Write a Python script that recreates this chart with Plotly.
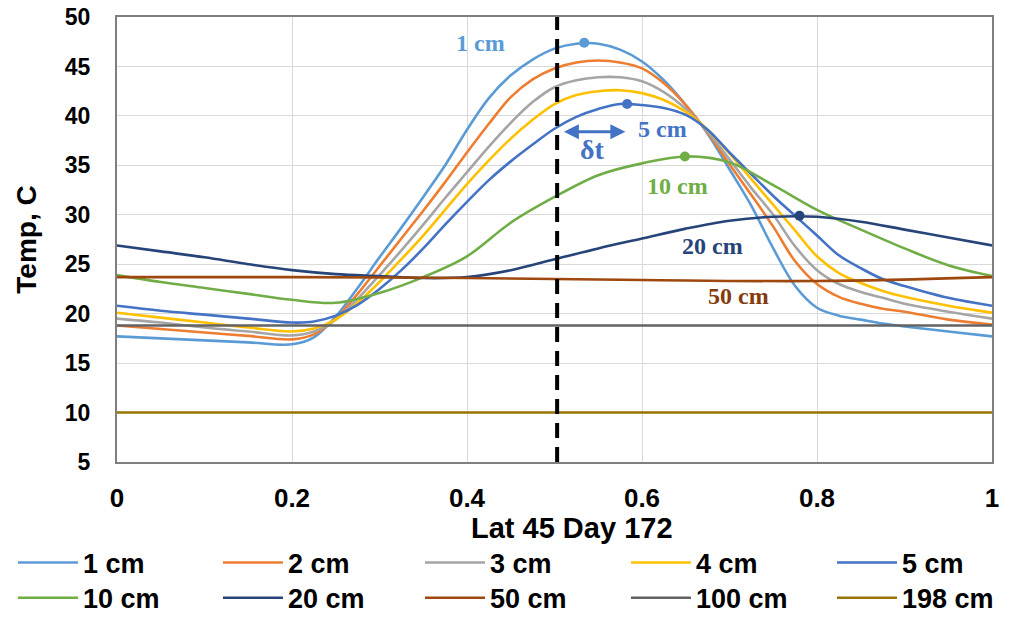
import plotly.graph_objects as go

# ---------------- data ----------------
series_names = ["1 cm", "2 cm", "3 cm", "4 cm", "5 cm", "10 cm", "20 cm", "50 cm", "100 cm", "198 cm"]

# fraction of day (shared sampling for the shallow layers)
x_shallow = [0, 0.05, 0.1, 0.15, 0.2, 0.225, 0.25, 0.275, 0.3, 0.325, 0.35, 0.375, 0.4, 0.425,
             0.45, 0.475, 0.5, 0.525, 0.55, 0.575, 0.6, 0.625, 0.65, 0.675, 0.7, 0.725, 0.75,
             0.775, 0.8, 0.825, 0.85, 0.875, 0.9, 0.95, 1.0]

t_1cm = [17.7, 17.5, 17.3, 17.1, 16.9, 17.6, 19.7, 22.6, 25.7, 28.7, 31.8, 35.0, 38.6, 41.8,
         44.1, 45.7, 46.8, 47.3, 47.3, 46.7, 45.5, 43.6, 41.1, 38.2, 34.6, 30.9, 26.6,
         22.8, 20.6, 19.8, 19.4, 19.0, 18.7, 18.2, 17.7]
t_2cm = [18.8, 18.45, 18.1, 17.75, 17.4, 17.9, 19.5, 22.0, 24.8, 27.6, 30.4, 33.3, 36.3, 39.2,
         41.9, 43.7, 44.8, 45.4, 45.6, 45.4, 44.8, 43.3, 41.1, 38.3, 35.1, 32.0, 28.8,
         25.3, 23.0, 21.7, 21.0, 20.5, 20.2, 19.4, 18.9]
t_3cm = [19.5, 19.1, 18.6, 18.2, 17.8, 18.2, 19.4, 21.5, 23.9, 26.4, 29.0, 31.7, 34.3, 36.9,
         39.3, 41.4, 42.9, 43.6, 43.9, 43.9, 43.5, 42.4, 40.7, 38.4, 35.6, 32.7, 30.0,
         26.8, 24.4, 23.0, 22.2, 21.6, 21.0, 20.2, 19.5]
t_4cm = [20.1, 19.6, 19.1, 18.6, 18.2, 18.5, 19.4, 21.1, 23.2, 25.5, 27.9, 30.5, 33.1, 35.5,
         37.7, 39.6, 41.2, 42.1, 42.5, 42.6, 42.3, 41.6, 40.4, 38.6, 36.2, 33.6, 31.0,
         28.4, 25.8, 24.1, 23.1, 22.3, 21.7, 20.8, 20.1]
t_5cm = [20.8, 20.3, 19.9, 19.5, 19.1, 19.2, 19.8, 20.9, 22.5, 24.4, 26.6, 29.0, 31.3, 33.5,
         35.4, 37.1, 38.7, 39.9, 40.7, 41.2, 41.1, 40.8, 40.1, 38.6, 36.3, 34.1, 31.9,
         29.9, 27.9, 25.9, 24.6, 23.5, 22.8, 21.6, 20.8]

x_deep = [0, 0.05, 0.1, 0.15, 0.2, 0.25, 0.3, 0.35, 0.4, 0.45, 0.5, 0.55, 0.6, 0.65, 0.7,
          0.75, 0.8, 0.85, 0.9, 0.95, 1.0]
t_10cm = [23.9, 23.2, 22.6, 22.0, 21.4, 21.1, 22.1, 23.7, 25.8, 29.2, 31.8, 34.0, 35.2, 35.9,
          35.3, 33.0, 30.5, 28.5, 26.6, 24.9, 23.8]
t_20cm = [26.9, 26.3, 25.7, 25.0, 24.4, 24.0, 23.8, 23.6, 23.7, 24.4, 25.5, 26.6, 27.6, 28.6,
          29.4, 29.8, 29.8, 29.3, 28.5, 27.7, 26.9]

x_50cm = [0, 0.2, 0.4, 0.6, 0.8, 1.0]
t_50cm = [23.7, 23.7, 23.6, 23.4, 23.3, 23.7]

x_100cm = [0, 0.5, 1.0]
t_100cm = [18.8, 18.8, 18.8]

x_198cm = [0, 0.5, 1.0]
t_198cm = [10.0, 10.0, 10.0]

# peak markers (1 cm, 5 cm, 10 cm, 20 cm)
peak_x = [0.534, 0.583, 0.649, 0.78]
peak_t = [47.4, 41.2, 35.9, 29.9]

# dashed reference time
ref_x = 0.503

# delta-t arrow (reference time -> 5 cm peak time)
dt_start = 0.509
dt_end = 0.581
dt_level = 38.4

x_ticks = [0, 0.2, 0.4, 0.6, 0.8, 1]
x_tick_text = ["0", "0.2", "0.4", "0.6", "0.8", "1"]
y_ticks = [5, 10, 15, 20, 25, 30, 35, 40, 45, 50]

# ---------------- styles ----------------
colors = ["#5B9BD5", "#ED7D31", "#A5A5A5", "#FFC000", "#4472C4",
          "#70AD47", "#264478", "#9E480E", "#636363", "#997300"]
peak_colors = ["#5B9BD5", "#4472C4", "#70AD47", "#264478"]

xs = [x_shallow] * 5 + [x_deep, x_deep, x_50cm, x_100cm, x_198cm]
ts = [t_1cm, t_2cm, t_3cm, t_4cm, t_5cm, t_10cm, t_20cm, t_50cm, t_100cm, t_198cm]

SANS = "Liberation Sans, Arial, sans-serif"
SERIF = "Liberation Serif, Times New Roman, serif"

# legend slots (5 columns x 2 rows, Excel-style layout under the axis)
leg_cols = [-0.1189, 0.1154, 0.3463, 0.5817, 0.8171]
leg_rows = [-0.227, -0.306]

fig = go.Figure()
for i, (name, x, t, c) in enumerate(zip(series_names, xs, ts, colors)):
    lid = "legend" if i == 0 else f"legend{i + 1}"
    fig.add_trace(go.Scatter(
        x=x, y=t, name=name, mode="lines", legend=lid,
        line=dict(color=c, width=2.6, shape="spline", smoothing=1.0),
    ))

fig.add_trace(go.Scatter(
    x=peak_x, y=peak_t, mode="markers", showlegend=False,
    marker=dict(color=peak_colors, size=10),
))

# dashed vertical line
fig.add_shape(type="line", x0=ref_x, x1=ref_x, xref="x", y0=0, y1=1, yref="paper",
              line=dict(color="black", width=4, dash="15px,9px"))

# delta-t double arrow
fig.add_annotation(x=dt_end, y=dt_level, ax=dt_start, ay=dt_level,
                   xref="x", yref="y", axref="x", ayref="y",
                   text="", showarrow=True, arrowhead=2, arrowside="end+start",
                   arrowsize=1.0, arrowwidth=3, arrowcolor="#4472C4")

labels = [
    ("1 cm", 0.415, 47.4, "#5B9BD5", 24),
    ("5 cm", 0.623, 38.7, "#4472C4", 24),
    ("δt", 0.543, 36.6, "#4472C4", 28),
    ("10 cm", 0.640, 32.9, "#70AD47", 24),
    ("20 cm", 0.681, 26.8, "#264478", 24),
    ("50 cm", 0.710, 21.8, "#843C0C", 24),
]
for txt, lx, ly, c, fs in labels:
    fig.add_annotation(x=lx, y=ly, xref="x", yref="y", text=txt, showarrow=False,
                       font=dict(family=SERIF, size=fs, color=c, weight="bold"))

# x-axis title (Excel places it slightly right of centre)
fig.add_annotation(x=0.52, y=-0.148, xref="paper", yref="paper", text="Lat 45 Day 172",
                   showarrow=False, xanchor="center", yanchor="middle",
                   font=dict(family=SANS, size=29, color="black", weight="bold"))

layout_legends = {}
for i in range(10):
    key = "legend" if i == 0 else f"legend{i + 1}"
    layout_legends[key] = dict(
        x=leg_cols[i % 5], y=leg_rows[i // 5], xanchor="left", yanchor="middle",
        orientation="h", itemwidth=60,
        font=dict(family=SANS, size=27, color="black", weight="bold"),
        bgcolor="rgba(0,0,0,0)", borderwidth=0,
    )

fig.update_layout(
    width=1012, height=618,
    paper_bgcolor="white", plot_bgcolor="white",
    margin=dict(l=117, r=20, t=17, b=156, autoexpand=False),
    font=dict(family=SANS, color="black"),
    showlegend=True,
    **layout_legends,
)

fig.update_xaxes(
    range=[0, 1], tickvals=x_ticks, ticktext=x_tick_text,
    showgrid=True, gridcolor="#D9D9D9", gridwidth=1,
    showline=True, linecolor="#7F7F7F", linewidth=2, mirror=True,
    ticks="", ticklabelstandoff=12, zeroline=False, automargin=False,
    ticklabeloverflow="allow",
    tickfont=dict(family=SANS, size=26, color="black", weight="bold"),
)
fig.update_yaxes(
    range=[5, 50], tickvals=y_ticks,
    showgrid=True, gridcolor="#D9D9D9", gridwidth=1,
    showline=True, linecolor="#7F7F7F", linewidth=2, mirror=True,
    ticks="", ticklabelstandoff=20, zeroline=False, automargin=False,
    ticklabeloverflow="allow",
    tickfont=dict(family=SANS, size=23, color="black", weight="bold"),
    title=dict(text="Temp, C", standoff=20,
               font=dict(family=SANS, size=28, color="black", weight="bold")),
)

# remove the browser's default page margin so the figure sits at the window origin
fig.write_html("out.html", config={"displayModeBar": False},
               post_script="document.body.style.margin='0';")
